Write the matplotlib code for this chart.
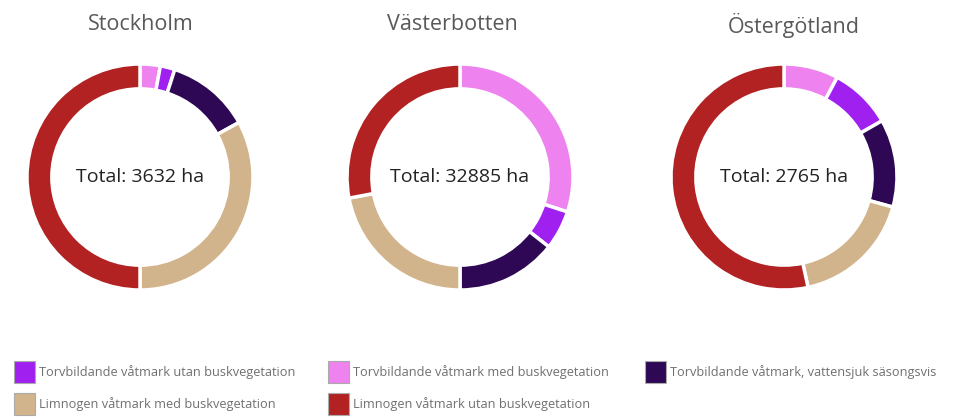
import matplotlib
matplotlib.use("Agg")
import matplotlib.pyplot as plt

# categories in drawing order (clockwise from 12 o'clock)
categories = [
    "Torvbildande våtmark med buskvegetation",
    "Torvbildande våtmark utan buskvegetation",
    "Torvbildande våtmark, vattensjuk säsongsvis",
    "Limnogen våtmark med buskvegetation",
    "Limnogen våtmark utan buskvegetation",
]
colors = ["#EE82EE", "#A020F0", "#2E0854", "#D2B48C", "#B22222"]

regions = ["Stockholm", "Västerbotten", "Östergötland"]
totals = [3632, 32885, 2765]

# area in ha per category
stockholm = [105, 76, 436, 1199, 1816]
vasterbotten = [9866, 1842, 4735, 7235, 9207]
ostergotland = [216, 246, 348, 478, 1477]
values = [stockholm, vasterbotten, ostergotland]

W, H = 957, 419
fig = plt.figure(figsize=(W / 100, H / 100), dpi=100)
plt.rcParams['font.family'] = ['Open Sans', 'DejaVu Sans']

centers = [(140, 177), (460, 177), (784, 177)]
title_x = [141, 452, 794]
r_px = 113
size = r_px * 2.5

for i, (cx, cy) in enumerate(centers):
    ax = fig.add_axes([(cx - size / 2) / W, (H - cy - size / 2) / H, size / W, size / H])
    ax.pie(values[i], colors=colors, startangle=90, counterclock=False,
           wedgeprops=dict(width=0.22, edgecolor='white', linewidth=2.5))
    ax.set_xlim(-1.25, 1.25)
    ax.set_ylim(-1.25, 1.25)
    ax.text(0, 0, f"Total: {totals[i]} ha", ha='center', va='center',
            fontsize=14, color='#222222')
    fig.text(title_x[i] / W, 1 - 25 / H, regions[i], ha='center', va='center',
             fontsize=15.5, color='#595959')

# legend, in the reference's order
legend_order = [1, 0, 2, 3, 4]
legend_pos = [(14, 372), (328, 372), (645, 372), (14, 404), (328, 404)]
for k, (lx, ly) in zip(legend_order, legend_pos):
    p = plt.Rectangle((lx / W, 1 - (ly + 11) / H), 21 / W, 22 / H,
                      facecolor=colors[k], edgecolor='#aaaaaa', linewidth=0.8,
                      transform=fig.transFigure, figure=fig)
    fig.patches.append(p)
    fig.text((lx + 25) / W, 1 - ly / H, categories[k], ha='left', va='center',
             fontsize=9.2, color='#707070')

fig.savefig("out.png", dpi=100)
